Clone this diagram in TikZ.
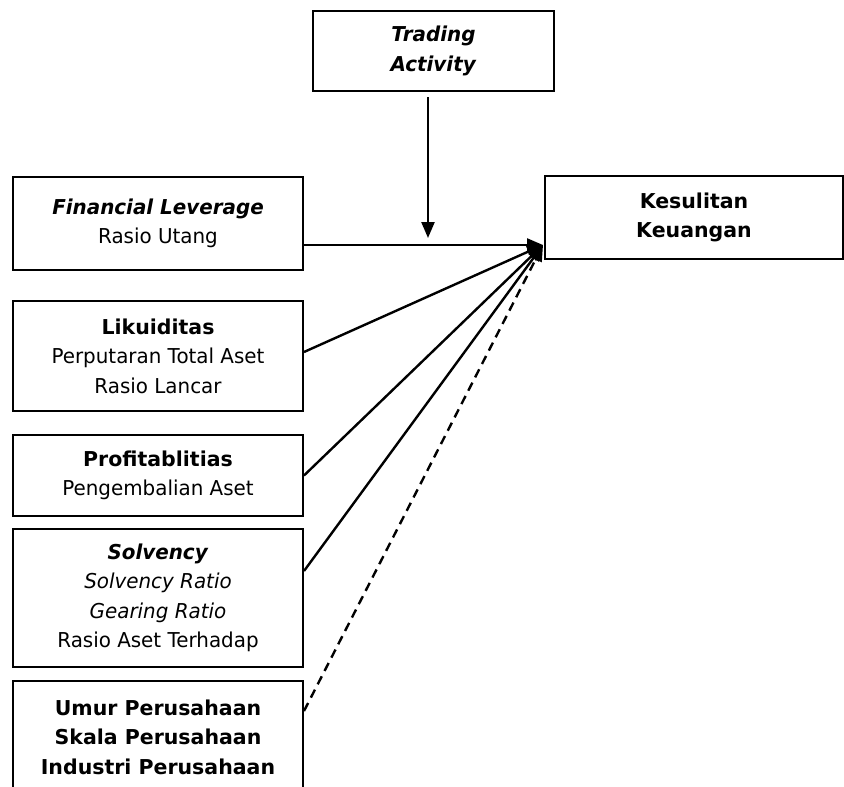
\documentclass[tikz,border=0pt]{standalone}
\usepackage{fontspec}
\setmainfont[FakeStretch=0.97,BoldFeatures={FakeStretch=1.0}]{DejaVu Sans}
\usetikzlibrary{arrows.meta,calc}
\begin{document}
\begin{tikzpicture}[x=1pt,y=-1pt,
  box/.style={draw,line width=2pt,align=center,inner sep=0pt,
    font=\fontsize{20.5}{29.5}\selectfont},
  link/.style={line width=2.4pt,-{Triangle[length=16pt,width=13pt]}}]
\useasboundingbox (0,0) rectangle (844,787);
\clip (0,0) rectangle (844,787);
\node[box,minimum width=241pt,minimum height=80pt] (ta) at (433.5,51)
  {\textbf{\textit{Trading}}\\\textbf{\textit{Activity}}};
\node[box,minimum width=298pt,minimum height=83pt] (kk) at (694,217.5)
  {\textbf{Kesulitan}\\\textbf{Keuangan}};
\node[box,minimum width=290pt,minimum height=93pt] (fl) at (158,223.5)
  {\textbf{\textit{Financial Leverage}}\\Rasio Utang};
\node[box,minimum width=290pt,minimum height=110pt] (lk) at (158,356)
  {\textbf{Likuiditas}\\Perputaran Total Aset\\Rasio Lancar};
\node[box,minimum width=290pt,minimum height=81pt] (pr) at (158,475.5)
  {\textbf{Profitablitias}\\Pengembalian Aset};
\node[box,minimum width=290pt,minimum height=138pt] (sv) at (158,598)
  {\textbf{\textit{Solvency}}\\\textit{Solvency Ratio}\\\textit{Gearing Ratio}\\Rasio Aset Terhadap};
\node[box,minimum width=290pt,minimum height=112pt] (um) at (158,737)
  {\textbf{Umur Perusahaan}\\\textbf{Skala Perusahaan}\\\textbf{Industri Perusahaan}};
\coordinate (tgt) at ($(kk.south west)+(-1,-15)$);
\coordinate (vtip) at (428,238);
\draw[link] (ta.south -| vtip) ++(0,5) -- (vtip);
\draw[link] (fl.east |- tgt) -- (tgt);
\draw[link] ($(lk.east)+(0,-4)$) -- (tgt);
\draw[link] (pr.east) -- (tgt);
\draw[link] ($(sv.north east)+(0,43)$) -- (tgt);
\draw[link,dash pattern=on 9pt off 6pt] ($(um.north east)+(0,31)$) -- (tgt);
\end{tikzpicture}
\end{document}
